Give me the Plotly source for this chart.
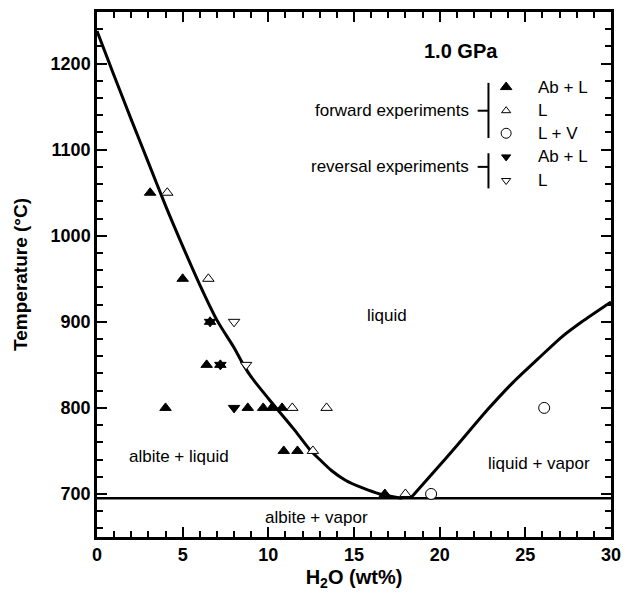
import plotly.graph_objects as go

# ---------------- data ----------------
# forward experiments, Ab + L (filled up-triangles)
fwd_abl_x = [3.1, 5.0, 6.4, 6.6, 7.2, 4.0, 8.8, 9.7, 10.2, 10.8, 10.9, 11.7, 16.8]
fwd_abl_T = [1050, 950, 850, 900, 850, 800, 800, 800, 800, 800, 750, 750, 700]
# forward experiments, L (open up-triangles)
fwd_l_x = [4.1, 6.5, 11.4, 13.4, 12.6, 18.0]
fwd_l_T = [1050, 950, 800, 800, 750, 700]
# forward experiments, L + V (open circles)
fwd_lv_x = [19.5, 26.1]
fwd_lv_T = [700, 800]
# reversal experiments, Ab + L (filled down-triangles)
rev_abl_x = [6.6, 7.2, 8.0]
rev_abl_T = [900, 850, 800]
# reversal experiments, L (open down-triangles)
rev_l_x = [8.0, 8.7]
rev_l_T = [900, 850]

# phase boundaries
liq_x = [0, 1, 2, 3, 4, 5, 6, 7, 8, 8.55, 9, 10, 10.5, 11.5, 12.4, 13, 13.7, 14.5, 15.5, 16.5, 17.8]
liq_T = [1238, 1186, 1135, 1085, 1035, 988, 943, 902, 870, 850, 836, 811, 799, 775, 752, 740, 727, 716, 707, 700, 695]
vap_x = [18.3, 19.5, 21, 22.8, 24.3, 25.9, 27.1, 28.3, 30]
vap_T = [695, 722, 756, 798, 830, 860, 882, 900, 923]
sol_x = [0, 30]
sol_T = [695, 695]

x_ticks = [0, 5, 10, 15, 20, 25, 30]
y_ticks = [700, 800, 900, 1000, 1100, 1200]

field_labels = ["liquid", "albite + liquid", "liquid + vapor", "albite + vapor"]
field_x = [16.9, 4.8, 25.8, 12.8]
field_T = [907, 744, 735, 673]

legend_labels = ["Ab + L", "L", "L + V", "Ab + L", "L"]

FONT = "Liberation Sans, Arial, sans-serif"

fig = go.Figure()

line_style = dict(color="black", width=3)
fig.add_trace(go.Scatter(x=sol_x, y=sol_T, mode="lines", line=dict(color="black", width=2.5)))
fig.add_trace(go.Scatter(x=liq_x, y=liq_T, mode="lines", line=dict(shape="spline", smoothing=0.8, **line_style)))
fig.add_trace(go.Scatter(x=vap_x, y=vap_T, mode="lines", line=dict(shape="spline", smoothing=0.6, **line_style)))

def mk(sym, fill, size):
    return dict(symbol=sym, size=size, color=fill, line=dict(color="black", width=1))

fig.add_trace(go.Scatter(x=fwd_l_x, y=fwd_l_T, mode="markers", marker=mk("triangle-up", "white", 10)))
fig.add_trace(go.Scatter(x=rev_l_x, y=rev_l_T, mode="markers", marker=mk("triangle-down", "white", 10)))
fig.add_trace(go.Scatter(x=fwd_lv_x, y=fwd_lv_T, mode="markers", marker=mk("circle", "white", 11)))
fig.add_trace(go.Scatter(x=fwd_abl_x, y=fwd_abl_T, mode="markers", marker=mk("triangle-up", "black", 10)))
fig.add_trace(go.Scatter(x=rev_abl_x, y=rev_abl_T, mode="markers", marker=mk("triangle-down", "black", 10)))

# custom legend (overlay axes in plot-fraction units)
leg_mx = 0.796
leg_y = [0.857, 0.812, 0.769, 0.724, 0.679]
leg_sym = ["triangle-up", "triangle-up", "circle", "triangle-down", "triangle-down"]
leg_fill = ["black", "white", "white", "black", "white"]
leg_size = [10, 8, 10, 8, 8]
for yy, s, f, sz in zip(leg_y, leg_sym, leg_fill, leg_size):
    fig.add_trace(go.Scatter(x=[leg_mx], y=[yy], xaxis="x2", yaxis="y2", mode="markers",
                             marker=mk(s, f, sz)))
for yy, lab in zip(leg_y, legend_labels):
    fig.add_annotation(x=0.855, y=yy, xref="paper", yref="paper", text=lab, showarrow=False,
                       xanchor="left", yanchor="middle", font=dict(family=FONT, size=17, color="black"))

# brackets
br = dict(type="line", xref="paper", yref="paper", line=dict(color="black", width=2))
fig.add_shape(x0=0.7616, x1=0.7616, y0=0.760, y1=0.865, **br)
fig.add_shape(x0=0.7406, x1=0.7616, y0=0.812, y1=0.812, **br)
fig.add_shape(x0=0.7616, x1=0.7616, y0=0.664, y1=0.731, **br)
fig.add_shape(x0=0.7406, x1=0.7616, y0=0.705, y1=0.705, **br)
fig.add_annotation(x=0.727, y=0.812, xref="paper", yref="paper", text="forward experiments",
                   showarrow=False, xanchor="right", yanchor="middle",
                   font=dict(family=FONT, size=17, color="black"))
fig.add_annotation(x=0.727, y=0.705, xref="paper", yref="paper", text="reversal experiments",
                   showarrow=False, xanchor="right", yanchor="middle",
                   font=dict(family=FONT, size=17, color="black"))
fig.add_annotation(x=0.708, y=0.926, xref="paper", yref="paper", text="<b>1.0 GPa</b>",
                   showarrow=False, xanchor="center", yanchor="middle",
                   font=dict(family=FONT, size=20, color="black"))

for lab, xx, tt in zip(field_labels, field_x, field_T):
    fig.add_annotation(x=xx, y=tt, text=lab, showarrow=False, xanchor="center", yanchor="middle",
                       font=dict(family=FONT, size=17, color="black"))

axis_common = dict(showgrid=False, zeroline=False, showline=True, linecolor="black", linewidth=2.5,
                   mirror="allticks", ticks="inside", tickcolor="black", tickwidth=2, ticklen=10,
                   tickfont=dict(family=FONT, size=18, color="black", weight="bold"))

fig.update_layout(
    width=630, height=597,
    margin=dict(l=97, r=9, t=12, b=60),
    paper_bgcolor="white", plot_bgcolor="white",
    showlegend=False,
    xaxis=dict(range=[0, 30], tickvals=x_ticks, ticktext=[str(v) for v in x_ticks],
               minor=dict(dtick=1, tick0=0, ticks="inside", ticklen=6, tickcolor="black", tickwidth=2),
               title=dict(text="<b>H<sub>2</sub>O (wt%)</b>", font=dict(family=FONT, size=20, color="black"),
                          standoff=6),
               **axis_common),
    yaxis=dict(range=[650, 1260], tickvals=y_ticks, ticktext=[str(v) for v in y_ticks],
               minor=dict(dtick=20, tick0=0, ticks="inside", ticklen=6, tickcolor="black", tickwidth=2),
               title=dict(text="<b>Temperature (°C)</b>", font=dict(family=FONT, size=19, color="black"),
                          standoff=18),
               **axis_common),
    xaxis2=dict(range=[0, 1], overlaying="x", visible=False, fixedrange=True),
    yaxis2=dict(range=[0, 1], overlaying="y", visible=False, fixedrange=True),
)

fig.write_html("out.html")
